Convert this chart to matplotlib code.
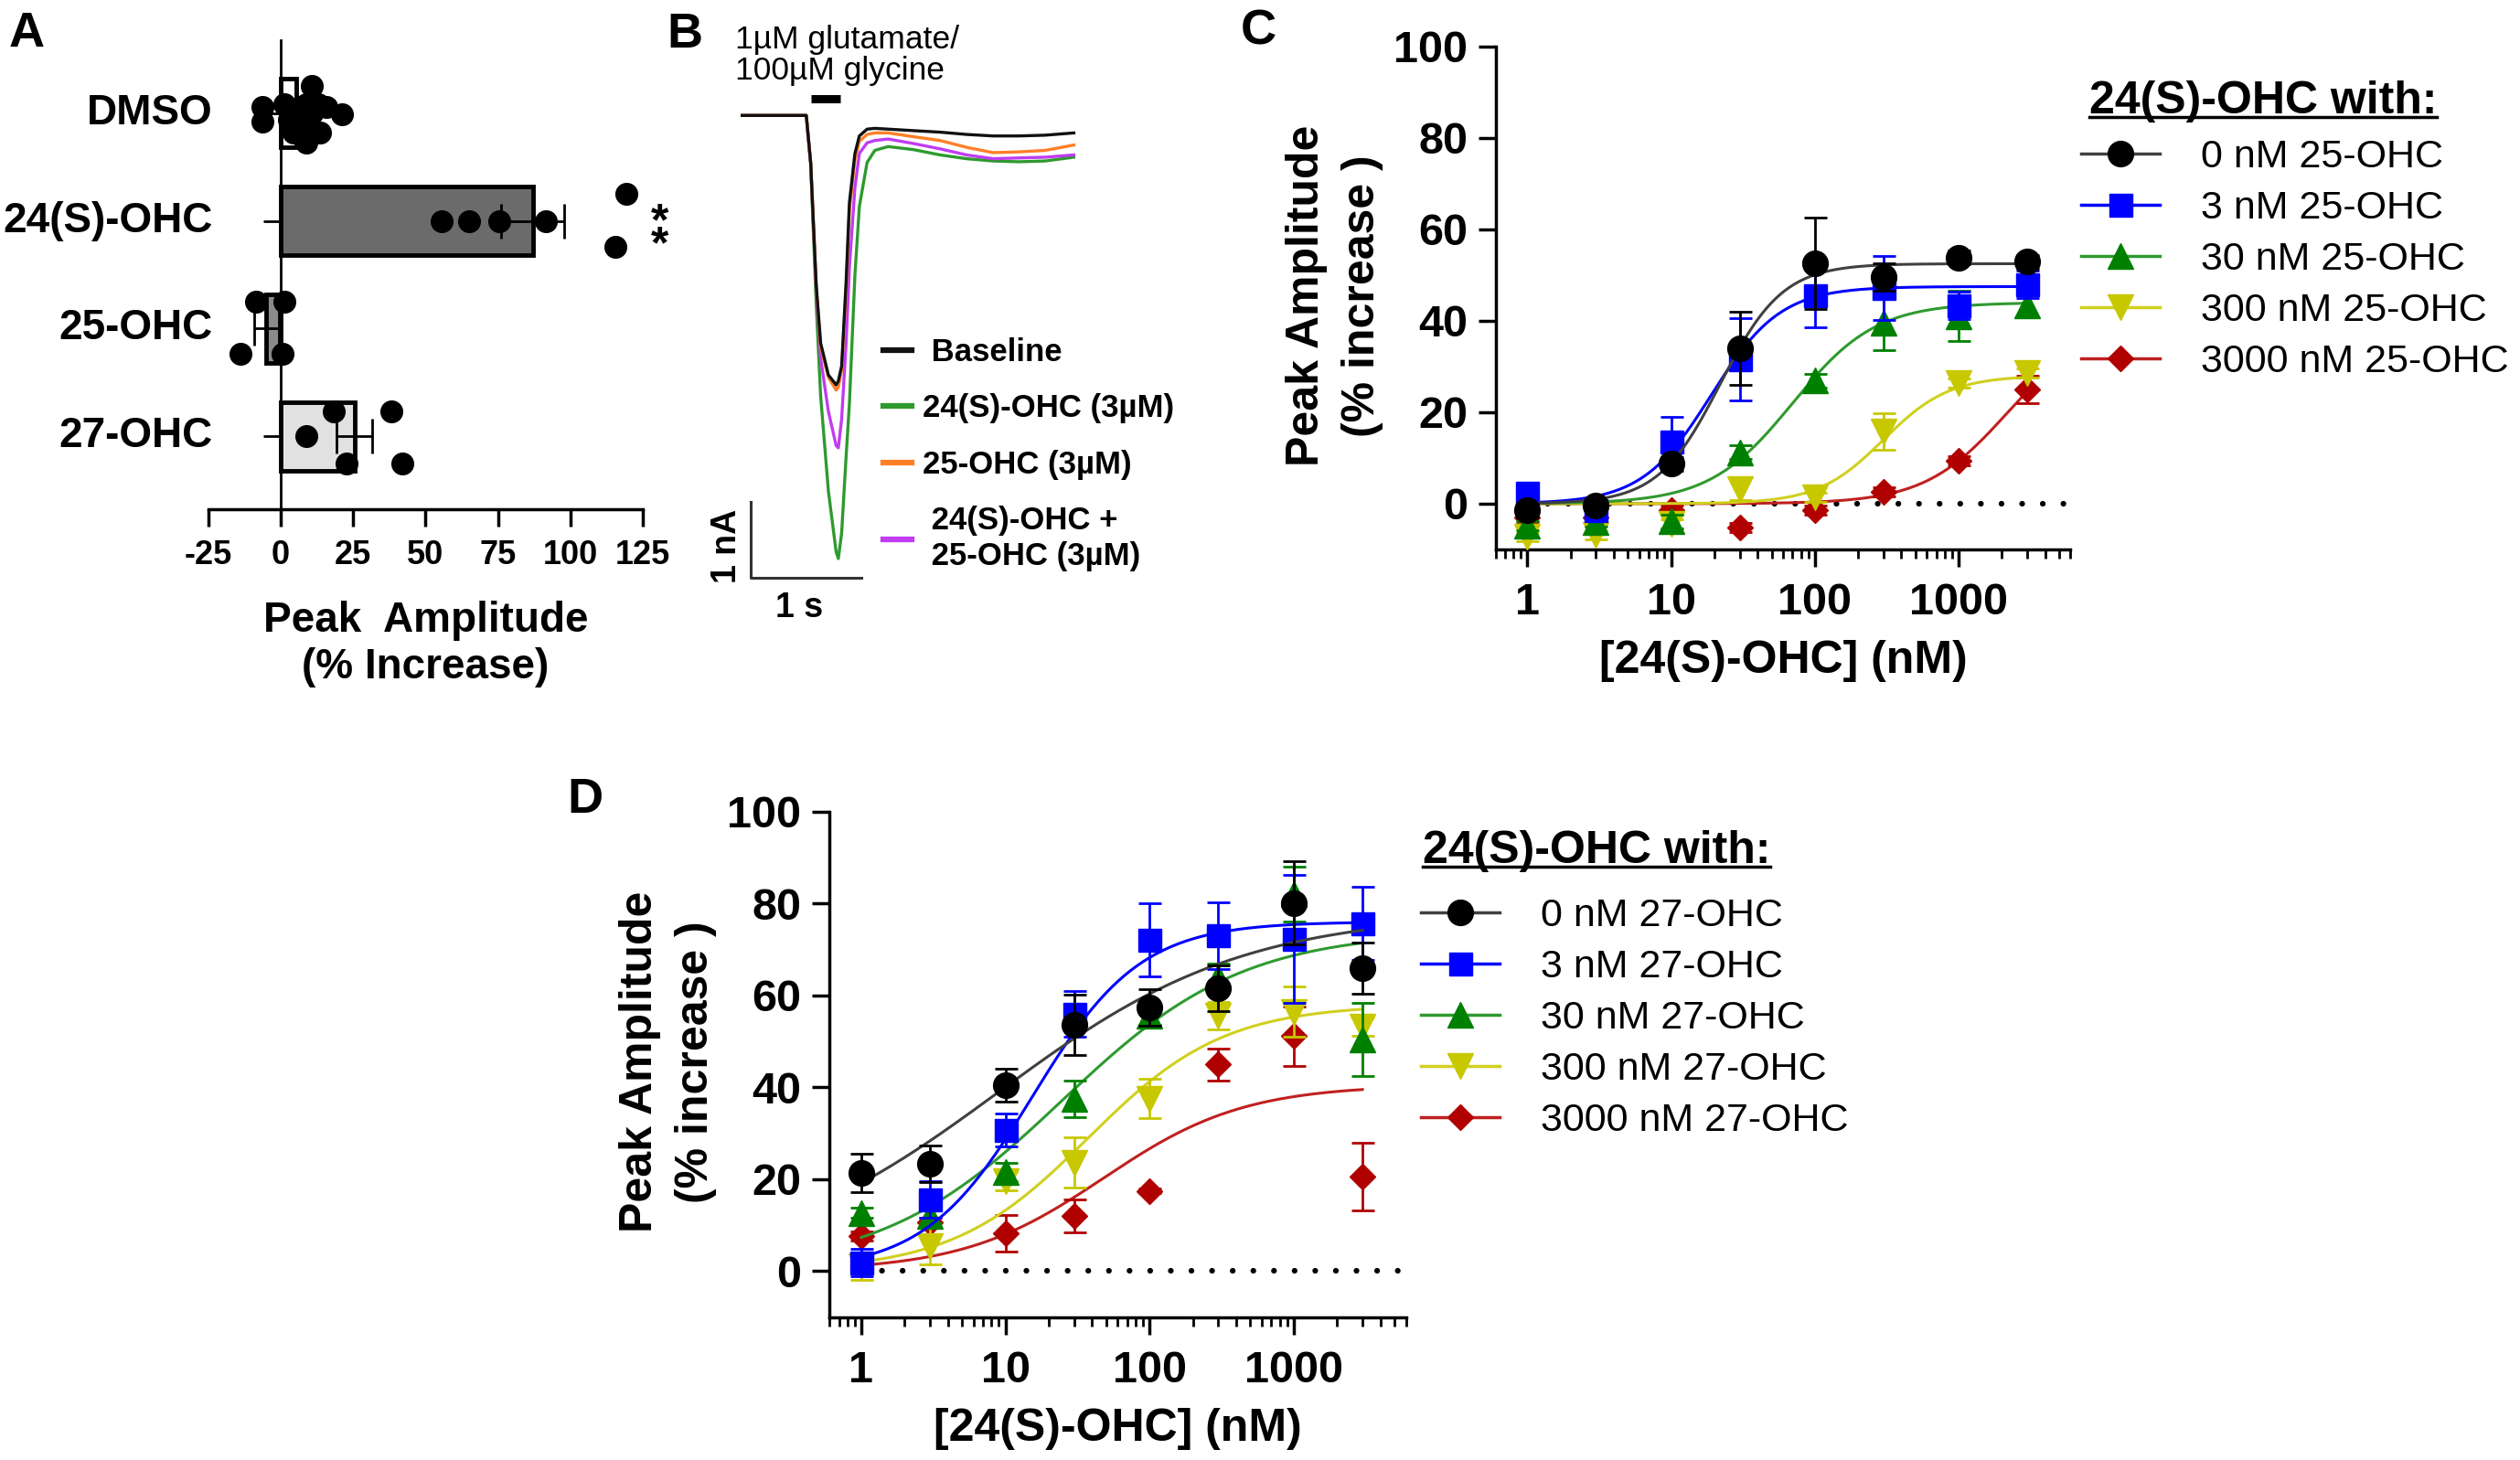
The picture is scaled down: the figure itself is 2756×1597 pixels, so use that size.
import numpy as np
import matplotlib.pyplot as plt
from matplotlib.lines import Line2D
from matplotlib.ticker import LogLocator, NullFormatter

plt.rcParams['font.family'] = ['Liberation Sans', 'DejaVu Sans']

W, H = 2756, 1597


def fx(px):
    return px / W


def fy(py):
    return 1 - py / H


# ---------------- Panel A data ----------------
a_groups = ['DMSO', '24(S)-OHC', '25-OHC', '27-OHC']
a_mean = [5.5, 87.0, -5.0, 25.5]
a_sem = [2.5, 11.0, 4.3, 6.1]
a_colors = ['white', '#6b6b6b', '#8a8a8a', '#e1e1e1']
a_pts = [
    [-6.3, -6.3, 1.4, 2.9, 5.2, 10.6, 12.9, 15.9, 21.3, 13.6, 9.0, 4.4, 7.5, 10.6, 9.0],
    [55.7, 64.9, 75.6, 91.7, 119.3, 115.5],
    [-8.6, 1.4, -13.9, 0.6],
    [18.2, 9.0, 22.8, 38.1, 42.0],
]
a_jit = [
    [-0.06, 0.08, -0.08, 0.06, 0.0, -0.25, -0.08, -0.06, 0.01, 0.18, 0.27, 0.18, 0.1, 0.0, -0.08],
    [0, 0, 0, 0, -0.25, 0.24],
    [-0.25, -0.25, 0.23, 0.23],
    [-0.23, 0, 0.25, -0.23, 0.25],
]
a_xticks = [-25, 0, 25, 50, 75, 100, 125]

# ---------------- Panel B data (traces, s / nA) ----------------
t_trace = [0.00, 0.58, 0.62, 0.67, 0.71, 0.78, 0.85, 0.87, 0.90, 0.94, 0.97, 1.02,
           1.06, 1.13, 1.20, 1.32, 1.55, 1.79, 2.03, 2.27, 2.50, 2.74, 3.00]
i_base = [0, 0, -0.63, -2.24, -3.00, -3.42, -3.55, -3.50, -3.30, -2.20, -1.15, -0.50,
          -0.27, -0.18, -0.17, -0.18, -0.20, -0.22, -0.25, -0.27, -0.27, -0.26, -0.23]
i_24s = [0, 0, -0.63, -2.50, -3.70, -4.95, -5.75, -5.84, -5.50, -4.50, -3.80, -2.10,
         -1.20, -0.62, -0.46, -0.41, -0.45, -0.52, -0.57, -0.60, -0.61, -0.60, -0.55]
i_25 = [0, 0, -0.63, -2.24, -3.05, -3.45, -3.62, -3.58, -3.35, -2.30, -1.25, -0.58,
        -0.34, -0.25, -0.23, -0.23, -0.28, -0.33, -0.42, -0.49, -0.48, -0.46, -0.39]
i_both = [0, 0, -0.63, -2.30, -3.20, -3.90, -4.35, -4.38, -4.00, -3.00, -2.00, -0.95,
          -0.50, -0.36, -0.33, -0.31, -0.37, -0.44, -0.52, -0.57, -0.56, -0.55, -0.52]
b_labels = [' Baseline', '24(S)-OHC (3µM)', '25-OHC (3µM)', ' 24(S)-OHC +\n 25-OHC (3µM)']
b_colors = ['#111111', '#2e9a2e', '#ff7f27', '#c03cf0']
stim_window = [0.62, 0.89]
stim_level = 0.22

# ---------------- Panels C / D data ----------------
conc = [1, 3, 10, 30, 100, 300, 1000, 3000]

c_labels = ['0 nM 25-OHC', '3 nM 25-OHC', '30 nM 25-OHC', '300 nM 25-OHC', '3000 nM 25-OHC']
c_0 = [-1.5, -0.5, 8.7, 34.0, 52.6, 49.5, 53.8, 52.9]
c_3 = [2.4, -1.5, 13.6, 31.6, 45.6, 47.2, 43.3, 47.9]
c_30 = [-4.9, -4.0, -3.9, 11.2, 26.9, 39.6, 41.0, 43.3]
c_300 = [-7.3, -6.8, -4.5, 3.2, 1.4, 15.8, 26.3, 28.6]
c_3000 = [-3.0, -3.0, -1.5, -5.3, -1.4, 2.6, 9.4, 25.0]
c_0_err = [1.5, 1, 1.5, 8, 10, 3, 1.5, 1.5]
c_3_err = [1.5, 1.5, 5.3, 9, 7, 7, 3, 3]
c_30_err = [1, 1, 1.5, 1.5, 1.5, 6, 5.5, 2.5]
c_300_err = [1, 1, 1, 2.5, 1, 4, 1, 1]
c_3000_err = [1, 1, 1, 1, 1, 1, 1, 3]
# Hill fit parameters (bottom = 0)
c_top = [52.5, 47.5, 44.0, 28.0, 40.0]
c_ec50 = [22, 19, 70, 300, 2200]
c_hill = [2.0, 1.8, 1.5, 1.9, 1.5]

d_labels = ['0 nM 27-OHC', '3 nM 27-OHC', '30 nM 27-OHC', '300 nM 27-OHC', '3000 nM 27-OHC']
d_0 = [21.4, 23.4, 40.4, 53.6, 57.3, 61.6, 80.1, 65.9]
d_3 = [1.9, 15.6, 30.7, 56.0, 72.1, 73.0, 72.3, 75.7]
d_30 = [12.7, 12.0, 21.6, 37.5, 55.5, 64.0, 82.0, 50.4]
d_300 = [1.0, 5.5, 19.5, 23.6, 37.5, 55.5, 56.4, 53.1]
d_3000 = [7.7, 10.6, 8.3, 12.0, 17.4, 45.0, 51.1, 20.6]
d_0_err = [4.2, 4, 3.6, 6.5, 4, 5, 9, 5.5]
d_3_err = [3, 4, 3.5, 5, 8, 7.3, 14, 8]
d_30_err = [1, 1.5, 2, 4, 2, 3, 6, 8]
d_300_err = [3, 4, 2, 5.5, 4.3, 3, 5.5, 2]
d_3000_err = [1, 1, 4, 3.6, 0.5, 3.5, 6.5, 7.4]
d_top = [78, 76, 74, 58, 40.5]
d_ec50 = [9, 15.4, 24.5, 37.6, 48]
d_hill = [0.51, 1.16, 0.69, 0.92, 0.89]

x_ticks = [1, 10, 100, 1000]
y_ticks = [0, 20, 40, 60, 80, 100]

mark_cols = ['black', '#0000ff', '#008000', '#c8c800', '#b00000']
line_cols = ['#404040', '#0000ff', '#2f9a2f', '#d0d020', '#c02020']
markers = ['o', 's', '^', 'v', 'D']
msizes = [20, 18, 20, 20, 14]

fig = plt.figure(figsize=(W / 100, H / 100), dpi=100)

# ================= A =================
axA = fig.add_axes([fx(227.8), fy(557.4), (702.9 - 227.8) / W, (557.4 - 43.6) / H])
ypos = np.arange(len(a_groups))
axA.barh(ypos, a_mean, height=0.64, color=a_colors, edgecolor='black', linewidth=3.5, zorder=2)
axA.errorbar(a_mean, ypos, xerr=a_sem, fmt='none', ecolor='black', elinewidth=2,
             capsize=14, capthick=2, zorder=3)
for i in range(len(a_groups)):
    axA.scatter(a_pts[i], ypos[i] + np.array(a_jit[i]), s=290, color='black', zorder=4)
axA.set_xlim(-25, 125)
axA.set_ylim(3.68, -0.68)
axA.spines['top'].set_visible(False)
axA.spines['right'].set_visible(False)
axA.spines['left'].set_position(('data', 0))
axA.spines['left'].set_linewidth(2)
axA.spines['bottom'].set_linewidth(2.5)
axA.set_yticks(ypos)
axA.set_yticklabels([])
axA.set_xticks(a_xticks)
axA.set_xticklabels([str(v) for v in a_xticks], fontsize=26, fontweight='bold')
axA.tick_params(axis='x', length=13.5, width=2.5, pad=10)
axA.tick_params(axis='y', length=13.5, width=2)
for i, g in enumerate(a_groups):
    axA.text(-23.5, ypos[i], g, ha='right', va='center', fontsize=33, fontweight='bold')
axA.text(131, 1.13, '*\n*', ha='center', va='center', fontsize=36, fontweight='bold',
         linespacing=0.42, clip_on=False)
axA.text(0.5, -0.236, 'Peak  Amplitude', transform=axA.transAxes, ha='center', va='center',
         fontsize=33, fontweight='bold')
axA.text(0.5, -0.335, '(% Increase)', transform=axA.transAxes, ha='center', va='center',
         fontsize=33, fontweight='bold')

# ================= B =================
axB = fig.add_axes([fx(763.3), fy(707.3), 532 / W, 697.2 / H])
axB.axis('off')
axB.set_xlim(-0.4, 4.0)
axB.set_ylim(-7, 1.4)
for trace, col in zip([i_24s, i_both, i_25, i_base], [b_colors[1], b_colors[3], b_colors[2], b_colors[0]]):
    axB.plot(t_trace, trace, color=col, lw=2.4)
axB.plot(stim_window, [stim_level, stim_level], color='black', lw=6.5, solid_capstyle='butt')
sb_t, sb_y = 0.08, -6.09
axB.plot([sb_t, sb_t, sb_t + 1], [sb_y + 1, sb_y, sb_y], color='#333333', lw=2.2)
axB.text(sb_t - 0.22, sb_y + 0.41, '1 nA', rotation=90, ha='center', va='center',
         fontsize=27, fontweight='bold')
axB.text(sb_t + 0.44, sb_y - 0.40, '1 s', ha='center', va='center', fontsize=27, fontweight='bold')
axB.text(-0.063, 0.79, '1µM glutamate/\n100µM glycine', ha='left', va='center',
         fontsize=25.5, linespacing=1.05)
b_handles = [Line2D([], [], color=c, lw=4.5) for c in b_colors]
axB.legend(b_handles, b_labels, loc='upper left', bbox_to_anchor=(fx(966), fy(369)),
           bbox_transform=fig.transFigure, frameon=False, prop={'size': 25, 'weight': 'bold'},
           handlelength=0.9, handletextpad=0.33, labelspacing=0.82, borderpad=0, borderaxespad=0)


# ================= C & D =================
def dose_panel(ax, vals, errs, tops, ec50s, hills, labels, leg_xy, head_x, head_base):
    xs = np.logspace(0, np.log10(conc[-1]), 300)
    for i in range(4, -1, -1):
        z = 3 + 2 * (4 - i)
        ax.plot(xs, tops[i] / (1 + (ec50s[i] / xs) ** hills[i]), color=line_cols[i], lw=2.2, zorder=z)
        ax.errorbar(conc, vals[i], yerr=errs[i], fmt=markers[i], ms=msizes[i], color=mark_cols[i],
                    ecolor=mark_cols[i], elinewidth=2, capsize=9, capthick=2, zorder=z + 1)
    ax.set_xscale('log')
    ax.set_xlim(0.6, 6000)
    ax.set_ylim(-10, 100)
    start = (np.log10(conc[0]) - np.log10(0.6)) / (np.log10(6000) - np.log10(0.6))
    ax.axhline(0, xmin=start, color='black', lw=4.5, ls=(0, (0.01, 3.6)),
               dash_capstyle='round', zorder=1)
    for s in ['top', 'right']:
        ax.spines[s].set_visible(False)
    for s in ['left', 'bottom']:
        ax.spines[s].set_linewidth(2.5)
    ax.set_xticks(x_ticks)
    ax.set_xticklabels([str(v) for v in x_ticks], fontsize=35, fontweight='bold')
    ax.xaxis.set_minor_locator(LogLocator(base=10, subs=np.arange(2, 10), numticks=20))
    ax.xaxis.set_minor_formatter(NullFormatter())
    ax.set_yticks(y_ticks)
    ax.set_yticklabels([str(v) for v in y_ticks], fontsize=35, fontweight='bold')
    ax.tick_params(which='major', length=14, width=2.5)
    ax.tick_params(which='minor', length=7, width=2)
    ax.tick_params(axis='x', which='major', pad=12)
    ax.tick_params(axis='y', pad=8)
    ax.text(0.5, -0.222, '[24(S)-OHC] (nM)', transform=ax.transAxes, ha='center', va='center',
            fontsize=36, fontweight='bold')
    ax.text(-0.328, 0.505, 'Peak Amplitude', transform=ax.transAxes, rotation=90,
            ha='center', va='center', fontsize=36, fontweight='bold')
    ax.text(-0.232, 0.505, '(% increase )', transform=ax.transAxes, rotation=90,
            ha='center', va='center', fontsize=36, fontweight='bold')
    handles = [Line2D([], [], color=line_cols[i], lw=2.5, marker=markers[i], ms=msizes[i],
                      mfc=mark_cols[i], mec=mark_cols[i]) for i in range(5)]
    ax.legend(handles, labels, loc='upper left', bbox_to_anchor=(fx(leg_xy[0]), fy(leg_xy[1])),
              bbox_transform=fig.transFigure, frameon=False, fontsize=31, handlelength=2.0,
              handletextpad=1.05, labelspacing=0.37, borderpad=0, borderaxespad=0)
    return fig.text(fx(head_x), fy(head_base), '24(S)-OHC with:', fontsize=36,
                    fontweight='bold', ha='left', va='baseline')


axC = fig.add_axes([fx(1635.6), fy(601), (2264.3 - 1635.6) / W, (601 - 50.9) / H])
headC = dose_panel(axC, [c_0, c_3, c_30, c_300, c_3000],
                   [c_0_err, c_3_err, c_30_err, c_300_err, c_3000_err],
                   c_top, c_ec50, c_hill, c_labels, (2276, 152), 2285, 124)

axD = fig.add_axes([fx(907), fy(1440.6), (1537.5 - 907) / W, (1440.6 - 887.7) / H])
headD = dose_panel(axD, [d_0, d_3, d_30, d_300, d_3000],
                   [d_0_err, d_3_err, d_30_err, d_300_err, d_3000_err],
                   d_top, d_ec50, d_hill, d_labels, (1553.6, 982), 1555.5, 944)

# panel letters
for letter, (lx, ly) in zip('ABCD', [(10, 51), (729, 52), (1357, 48.5), (620, 888.7)]):
    fig.text(fx(lx), fy(ly), letter, fontsize=39, fontweight='bold', ha='left', va='baseline')

# underline the legend headers
fig.canvas.draw()
rend = fig.canvas.get_renderer()
for head, uy in [(headC, 128), (headD, 948)]:
    bb = head.get_window_extent(rend)
    fig.add_artist(Line2D([bb.x0 / W, bb.x1 / W], [fy(uy), fy(uy)], color='black', lw=2.5,
                          transform=fig.transFigure))

fig.savefig('out.png', dpi=100)
